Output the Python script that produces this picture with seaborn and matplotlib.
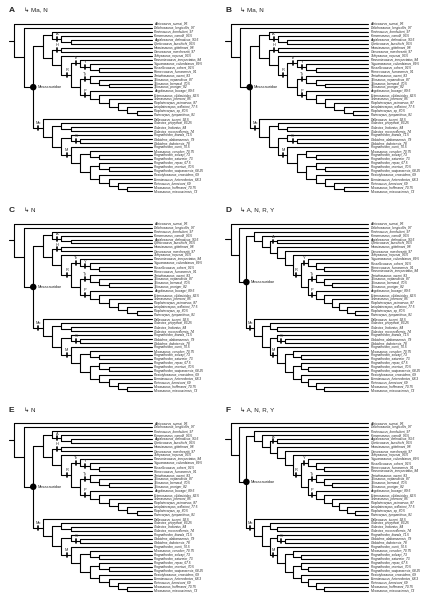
import matplotlib
matplotlib.use("Agg")
import matplotlib.pyplot as plt
import seaborn as sns
import pandas as pd

sns.set_style("white")
plt.rcParams['font.family'] = ['Liberation Sans', 'DejaVu Sans']

# %% tree data (newick, node labels after ")")
upper = ("((Pontosaurus_kornhuberi_97,(Komensaurus_carrolli_93.5,(Aigialosaurus_dalmaticus_93.5,Opetiosaurus_bucchichi_93.5))A),"
         "((Haasiasaurus_gittelmani_98,Carsosaurus_marchesetti_97)H,(Tethysaurus_nopcsai_93.5,"
         "((Pannoniasaurus_inexpectatus_84,(Yaguarasaurus_columbianus_89.5,(Russellosaurus_coheni_92.5,Romeosaurus_fumanensis_91))Y)Te,"
         "((Taniwhasaurus_oweni_83,(Tylosaurus_nepaeolicus_87,(Tylosaurus_bernardi_70.5,Tylosaurus_proriger_82)))Ty,"
         "(Angolasaurus_bocagei_89.5,(Ectenosaurus_clidastoides_82.5,(Selmasaurus_johnsoni_85,(Plioplatecarpus_primaevus_87,"
         "(Latoplatecarpus_willistoni_77.5,(Plioplatecarpus_sp_80.5,Platecarpus_tympaniticus_81))))))P))R)))")
lower = ("(Dallasaurus_turneri_92.5,((Clidastes_propython_83.25,(Clidastes_liodontus_84,Clidastes_moorevillensis_74)),"
         "((Prognathodon_kianda_71.5,(Globidens_alabamaensis_79,Globidens_dakotensis_78)G),"
         "(Prognathodon_currii_70.5,((Mosasaurus_conodon_70.75,(Prognathodon_solvayi_73,Prognathodon_saturator_73)),"
         "((Prognathodon_rapax_67.5,(Prognathodon_overtoni_70.5,Prognathodon_waiparaensis_68.25)),"
         "(Plesiotylosaurus_crassidens_69,(Eremiasaurus_heterodontus_68.3,(Plotosaurus_bennisoni_69,"
         "(Mosasaurus_hoffmanni_70.75,Mosasaurus_missouriensis_73)))))))M)))Mo")
tree_ac = "(Adriosaurus_suessi_95,(Dolichosaurus_longicollis_97,(" + upper + "," + lower + ")Mosasauridae))"

upper_d = ("(Pontosaurus_kornhuberi_97,(Komensaurus_carrolli_93.5,((Aigialosaurus_dalmaticus_93.5,Opetiosaurus_bucchichi_93.5)A,"
           "(Haasiasaurus_gittelmani_98,(Carsosaurus_marchesetti_97,(Tethysaurus_nopcsai_93.5,"
           "((Yaguarasaurus_columbianus_89.5,(Russellosaurus_coheni_92.5,(Romeosaurus_fumanensis_91,Pannoniasaurus_inexpectatus_84)))Y,"
           "((Taniwhasaurus_oweni_83,(Tylosaurus_nepaeolicus_87,(Tylosaurus_bernardi_70.5,Tylosaurus_proriger_82)))Ty,"
           "(Angolasaurus_bocagei_89.5,(Ectenosaurus_clidastoides_82.5,(Selmasaurus_johnsoni_85,(Plioplatecarpus_primaevus_87,"
           "(Latoplatecarpus_willistoni_77.5,(Plioplatecarpus_sp_80.5,Platecarpus_tympaniticus_81))))))P))R))))))")
tree_d = "(Adriosaurus_suessi_95,(Dolichosaurus_longicollis_97,(" + upper_d + "," + lower + ")Mosasauridae))"

panel_keys = ["A", "B", "C", "D", "E", "F"]
panel_chars = ["Ma, N", "Ma, N", "N", "A, N, R, Y", "N", "A, N, R, Y"]
panel_trees = [tree_ac, tree_ac, tree_ac, tree_d, tree_ac, tree_d]


def parse(s):
    pos = 0
    def node():
        nonlocal pos
        if s[pos] == "(":
            pos += 1
            kids = [node()]
            while s[pos] == ",":
                pos += 1
                kids.append(node())
            pos += 1  # ")"
            start = pos
            while pos < len(s) and s[pos] not in ",()":
                pos += 1
            return {"kids": kids, "label": s[start:pos]}
        start = pos
        while s[pos] not in ",()":
            pos += 1
        return {"kids": [], "label": s[start:pos]}
    return node()


def layout(t):
    tips = []
    def depth(n, d):
        n["d"] = d
        return max([d] + [depth(k, d + 1) for k in n["kids"]])
    maxd = depth(t, 0)
    def place(n):
        if not n["kids"]:
            n["y"] = len(tips)
            tips.append(n)
            n["x"] = 1.0
        else:
            for k in n["kids"]:
                place(k)
            n["y"] = (n["kids"][0]["y"] + n["kids"][-1]["y"]) / 2
            n["x"] = 0.04 + 0.92 * n["d"] / maxd
    place(t)
    return tips


def draw(ax, t):
    tips = layout(t)
    rows = []
    nodes = []
    def walk(n, px):
        k = len(rows)
        rows.extend([(k, px, n["y"]), (k, n["x"], n["y"])])
        if n["kids"]:
            k = len(rows)
            rows.extend([(k, n["x"], n["kids"][0]["y"]), (k, n["x"], n["kids"][-1]["y"])])
            if n["label"]:
                nodes.append(n)
            for c in n["kids"]:
                walk(c, n["x"])
    walk(t, 0.0)
    segs = pd.DataFrame(rows, columns=["seg", "x", "y"])
    sns.lineplot(data=segs, x="x", y="y", units="seg", estimator=None, sort=False,
                 ax=ax, color="black", lw=0.8)
    for n in tips:
        ax.text(1.015, n["y"], n["label"], fontsize=2.3, style="italic", va="center")
    big = [n for n in nodes if n["label"] == "Mosasauridae"]
    small = [n for n in nodes if n["label"] != "Mosasauridae"]
    sns.scatterplot(x=[n["x"] for n in big], y=[n["y"] for n in big], ax=ax,
                    color="black", s=22, zorder=5, edgecolor="none")
    for n in big:
        ax.text(n["x"] + 0.03, n["y"], "Mosasauridae", fontsize=2.8, va="center")
    for n in small:
        xm = n["x"] - 0.03
        ax.plot([xm, xm], [n["y"] - 0.5, n["y"] + 0.5], color="black", lw=1.2)
        ax.text(xm, n["y"] - 0.7, n["label"], fontsize=2.8, ha="center", va="bottom")
    ax.set_xlim(0, 1.42)
    ax.set_ylim(len(tips) - 0.3, -1.0)
    ax.axis("off")


fig = plt.figure(figsize=(4.33, 6.0), dpi=100)
for i, (key, chars, t) in enumerate(zip(panel_keys, panel_chars, panel_trees)):
    col, row = i % 2, i // 2
    left = 0.02 + col * 0.5
    bottom = 1 - (row + 1) * 0.333 + 0.01
    ax = fig.add_axes([left, bottom, 0.47, 0.29])
    draw(ax, parse(t))
    fig.text(left, bottom + 0.305, key, fontsize=6, fontweight="bold", va="center")
    fig.text(left + 0.035, bottom + 0.305, "\u21b3 " + chars, fontsize=4.5, va="center")

fig.savefig("out.png", dpi=100, facecolor="white")
